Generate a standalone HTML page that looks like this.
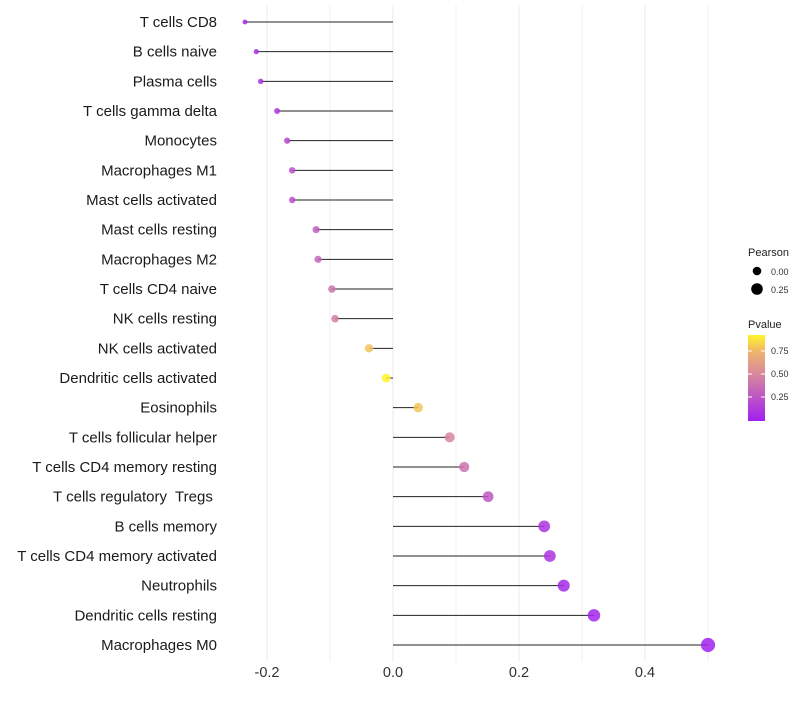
<!DOCTYPE html>
<html><head><meta charset="utf-8"><style>
body{margin:0;background:#fff;font-family:"Liberation Sans",sans-serif}
text{white-space:pre}
</style></head><body>
<svg id="chart" width="800" height="700" xmlns="http://www.w3.org/2000/svg" font-family="Liberation Sans, sans-serif"></svg>
<script>
const categories=["T cells CD8","B cells naive","Plasma cells","T cells gamma delta","Monocytes","Macrophages M1","Mast cells activated","Mast cells resting","Macrophages M2","T cells CD4 naive","NK cells resting","NK cells activated","Dendritic cells activated","Eosinophils","T cells follicular helper","T cells CD4 memory resting","T cells regulatory  Tregs ","B cells memory","T cells CD4 memory activated","Neutrophils","Dendritic cells resting","Macrophages M0"];
const pearson=[-0.235,-0.217,-0.21,-0.184,-0.168,-0.16,-0.16,-0.122,-0.119,-0.097,-0.092,-0.038,-0.011,0.04,0.09,0.113,0.151,0.24,0.249,0.271,0.319,0.5];
const pvalue=[0.05,0.08,0.08,0.12,0.2,0.22,0.22,0.3,0.35,0.42,0.45,0.8,0.94,0.8,0.5,0.4,0.27,0.1,0.1,0.05,0.03,0.01];
const xTicks=[-0.2,0,0.2,0.4];
const xTickLabels=["-0.2","0.0","0.2","0.4"];
const xMinor=[-0.1,0.1,0.3,0.5];
const NS="http://www.w3.org/2000/svg";
const svg=document.getElementById('chart');
const x=v=>393+v*630;
const y=i=>22+i*(623/21);
function mk(t,a,p){const e=document.createElementNS(NS,t);for(const k in a)e.setAttribute(k,a[k]);(p||svg).appendChild(e);return e;}
function lerp(a,b,t){return a.map((v,i)=>Math.round(v+(b[i]-v)*t));}
const stops=[[0,[160,32,240]],[0.5,[214,134,158]],[0.75,[238,178,110]],[0.94,[255,245,40]]];
function color(p){p=Math.max(0,Math.min(0.94,p));for(let i=1;i<stops.length;i++){if(p<=stops[i][0]){const t=(p-stops[i-1][0])/(stops[i][0]-stops[i-1][0]);const c=lerp(stops[i-1][1],stops[i][1],t);return `rgb(${c})`;}}return 'rgb(255,245,40)';}
function rad(v){return Math.sqrt(Math.max(2.5,20+60*v));}
const grid=mk('g',{});


xMinor.forEach(v=>mk('line',{x1:x(v),x2:x(v),y1:5,y2:662,stroke:'#f2f2f2','stroke-width':1},grid));
xTicks.forEach(v=>mk('line',{x1:x(v),x2:x(v),y1:5,y2:662,stroke:'#ebebeb','stroke-width':1},grid));
xTicks.forEach((v,i)=>{const t=mk('text',{x:x(v),y:677,'text-anchor':'middle','font-size':14.5,fill:'#333'});t.textContent=xTickLabels[i];

});
categories.forEach((c,i)=>{
const t=mk('text',{x:217,y:y(i)+5,'text-anchor':'end','font-size':15,fill:'#1a1a1a'});t.textContent=c;


const l=mk('line',{x1:x(0),x2:x(pearson[i]),y1:y(i),y2:y(i),stroke:'#222','stroke-width':1});


const d=mk('circle',{cx:x(pearson[i]),cy:y(i),r:rad(pearson[i]),fill:color(pvalue[i]),'fill-opacity':0.85});


});
const lg=mk('g',{});


let t=mk('text',{x:748,y:256,'font-size':11,fill:'#222'},lg);t.textContent='Pearson';
mk('circle',{cx:757,cy:271,r:4.3},lg);
mk('circle',{cx:757,cy:289,r:5.8},lg);
t=mk('text',{x:771,y:275,'font-size':9,fill:'#333'},lg);t.textContent='0.00';
t=mk('text',{x:771,y:293,'font-size':9,fill:'#333'},lg);t.textContent='0.25';
t=mk('text',{x:748,y:328,'font-size':11,fill:'#222'},lg);t.textContent='Pvalue';
const defs=mk('defs',{});
const gr=mk('linearGradient',{id:'pg',x1:0,y1:1,x2:0,y2:0},defs);
stops.forEach(s=>mk('stop',{offset:s[0]/0.94,'stop-color':`rgb(${s[1]})`},gr));
mk('rect',{x:748,y:335,width:17,height:86,fill:'url(#pg)'},lg);
[[0.75,351],[0.5,374],[0.25,397]].forEach(a=>{mk('line',{x1:748,x2:752,y1:a[1],y2:a[1],stroke:'#fff'},lg);mk('line',{x1:761,x2:765,y1:a[1],y2:a[1],stroke:'#fff'},lg);
t=mk('text',{x:771,y:a[1]+3,'font-size':9,fill:'#333'},lg);t.textContent=a[0].toFixed(2);});
</script>
</body></html>
